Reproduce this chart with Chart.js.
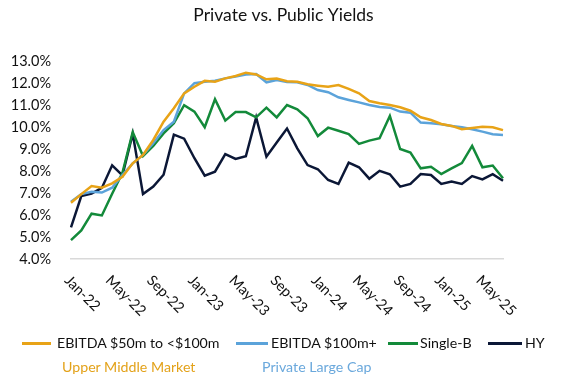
<!DOCTYPE html>
<html>
<head>
<meta charset="utf-8">
<script src="https://cdn.jsdelivr.net/npm/chart.js@4.4.1/dist/chart.umd.min.js"></script>
<style>
  html, body { margin: 0; padding: 0; background: #ffffff; }
  #wrap { position: relative; width: 567px; height: 390px; font-family: Lato, "Open Sans", sans-serif; }
  #c { position: absolute; left: 0; top: 0; }
  .lg { position: absolute; font-size: 14.2px; color: #111; white-space: nowrap; line-height: 18px; }
  .ln { position: absolute; height: 2.5px; }
  .sub { position: absolute; font-size: 14.2px; white-space: nowrap; line-height: 18px; }
</style>
</head>
<body>
<div id="wrap">
  <canvas id="c" width="567" height="390"></canvas>
  <div class="ln" style="left:22px;top:342px;width:29px;background:#E8A317"></div>
  <div class="lg" style="left:57px;top:334px">EBITDA $50m to &lt;$100m</div>
  <div class="ln" style="left:236px;top:342px;width:32px;background:#5BA3DA"></div>
  <div class="lg" style="left:271px;top:334px">EBITDA $100m+</div>
  <div class="ln" style="left:388px;top:342px;width:30px;background:#138A3A"></div>
  <div class="lg" style="left:420px;top:334px">Single-B</div>
  <div class="ln" style="left:488px;top:342px;width:34px;background:#0B1736"></div>
  <div class="lg" style="left:525px;top:334px">HY</div>
  <div class="sub" style="left:62px;top:358px;color:#E3A21A">Upper Middle Market</div>
  <div class="sub" style="left:262px;top:358px;color:#6AA8DC">Private Large Cap</div>
</div>
<script>
const categories = ['Jan-22','Feb-22','Mar-22','Apr-22','May-22','Jun-22','Jul-22','Aug-22','Sep-22','Oct-22','Nov-22','Dec-22',
  'Jan-23','Feb-23','Mar-23','Apr-23','May-23','Jun-23','Jul-23','Aug-23','Sep-23','Oct-23','Nov-23','Dec-23',
  'Jan-24','Feb-24','Mar-24','Apr-24','May-24','Jun-24','Jul-24','Aug-24','Sep-24','Oct-24','Nov-24','Dec-24',
  'Jan-25','Feb-25','Mar-25','Apr-25','May-25','Jun-25','Jul-25'];
const tickLabels = ['Jan-22','May-22','Sep-22','Jan-23','May-23','Sep-23','Jan-24','May-24','Sep-24','Jan-25','May-25'];
const yTicks = [4,5,6,7,8,9,10,11,12,13];

const upperMiddle = [6.56,6.95,7.32,7.24,7.44,7.74,8.35,8.73,9.41,10.24,10.85,11.53,11.83,12.10,12.06,12.21,12.32,12.47,12.39,12.17,12.20,12.08,
  12.06,11.94,11.88,11.83,11.91,11.73,11.53,11.18,11.08,11.00,10.90,10.74,10.44,10.32,10.14,10.05,9.90,9.95,10.01,9.99,9.86];
const largeCap = [6.60,6.95,7.06,7.02,7.24,7.82,8.35,8.73,9.26,9.86,10.24,11.53,11.99,12.06,12.10,12.21,12.29,12.39,12.41,12.03,12.14,12.05,
  12.03,11.91,11.68,11.58,11.35,11.23,11.12,11.00,10.91,10.88,10.70,10.65,10.20,10.17,10.12,10.05,9.99,9.90,9.79,9.67,9.64];
const singleB = [4.86,5.30,6.06,5.98,6.97,7.92,9.77,8.68,9.14,9.71,10.17,10.99,10.70,9.99,11.26,10.29,10.68,10.68,10.44,10.88,10.44,11.00,
  10.80,10.40,9.59,9.97,9.83,9.68,9.23,9.38,9.49,10.50,9.00,8.84,8.12,8.19,7.86,8.12,8.36,9.14,8.17,8.25,7.67];
const hy = [5.44,6.86,6.97,7.23,8.26,7.80,9.70,6.95,7.29,7.83,9.65,9.47,8.58,7.79,7.97,8.77,8.55,8.67,10.44,8.65,9.30,9.93,
  9.03,8.27,8.08,7.59,7.41,8.38,8.17,7.65,8.01,7.85,7.29,7.41,7.86,7.82,7.41,7.52,7.41,7.77,7.62,7.86,7.56];

const FONT = 'Lato, "Open Sans", sans-serif';

const rotatedXLabels = {
  id: 'rotatedXLabels',
  afterDraw(chart) {
    const x = chart.scales.x;
    const ctx = chart.ctx;
    ctx.save();
    ctx.font = '14.5px ' + FONT;
    ctx.fillStyle = '#111';
    ctx.textAlign = 'left';
    ctx.textBaseline = 'middle';
    tickLabels.forEach(lbl => {
      const px = x.getPixelForValue(categories.indexOf(lbl));
      ctx.save();
      ctx.translate(px - 4, x.bottom + 19);
      ctx.rotate(Math.PI / 4);
      ctx.fillText(lbl, 0, 0);
      ctx.restore();
    });
    ctx.restore();
  }
};

const mk = (label, data, color) => ({
  label, data, borderColor: color, backgroundColor: color,
  borderWidth: 2.5, pointRadius: 0, tension: 0, fill: false
});

new Chart(document.getElementById('c'), {
  type: 'line',
  data: {
    labels: categories,
    datasets: [
      mk('EBITDA $50m to <$100m', upperMiddle, '#E8A317'),
      mk('EBITDA $100m+', largeCap, '#5BA3DA'),
      mk('Single-B', singleB, '#138A3A'),
      mk('HY', hy, '#0B1736')
    ]
  },
  options: {
    responsive: false,
    animation: false,
    layout: { padding: { top: 0, left: 0, right: 0, bottom: 131 } },
    plugins: {
      legend: { display: false },
      tooltip: { enabled: false },
      title: {
        display: true,
        text: 'Private vs. Public Yields',
        color: '#111',
        font: { family: FONT, size: 17.5, weight: 'normal' },
        padding: { top: 5, bottom: 35 }
      }
    },
    scales: {
      x: {
        type: 'category',
        offset: false,
        grid: { display: false, drawTicks: false },
        border: { display: true, color: '#d9d9d9', width: 1.5 },
        ticks: { display: false },
        afterFit: s => { s.height = 0; }
      },
      y: {
        min: 4, max: 13,
        grid: { display: false, drawTicks: false },
        border: { display: false },
        afterFit: s => { s.width = 71; },
        afterBuildTicks: s => { s.ticks = yTicks.map(v => ({ value: v })); },
        ticks: {
          padding: 20,
          color: '#111',
          font: { family: FONT, size: 14.5 },
          callback: v => v.toFixed(1) + '%'
        }
      },
      yRight: {
        position: 'right',
        min: 4, max: 13,
        grid: { display: false, drawTicks: false },
        border: { display: false },
        ticks: { display: false },
        afterFit: s => { s.width = 64; }
      }
    }
  },
  plugins: [rotatedXLabels]
});
</script>
</body>
</html>
